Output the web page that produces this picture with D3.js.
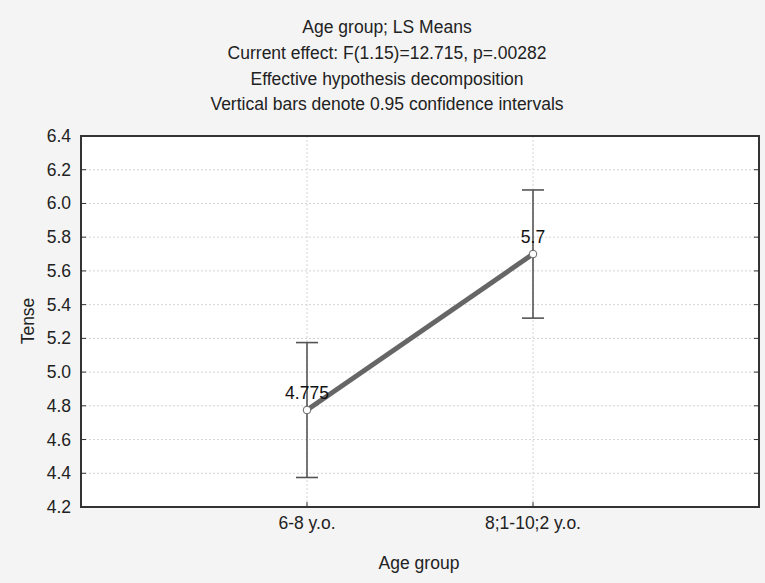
<!DOCTYPE html>
<html lang="en">
<head>
    <meta charset="UTF-8">
    <title>Age group; LS Means</title>
    <script src="https://cdn.jsdelivr.net/npm/d3@7"></script>
    <style>
        body { margin: 0; background: #f4f4f4; }
        svg text { font-family: "Liberation Sans", Arial, sans-serif; fill: #222; }
    </style>
</head>
<body>
<div id="chart"></div>
<script>
    // data
    var groups = ["6-8 y.o.", "8;1-10;2 y.o."];
    var means = [4.775, 5.7];
    var lower = [4.375, 5.32];
    var upper = [5.175, 6.08];
    var pointLabels = ["4.775", "5.7"];
    var yTicks = [4.2, 4.4, 4.6, 4.8, 5.0, 5.2, 5.4, 5.6, 5.8, 6.0, 6.2, 6.4];
    var titleLines = [
        "Age group; LS Means",
        "Current effect: F(1.15)=12.715, p=.00282",
        "Effective hypothesis decomposition",
        "Vertical bars denote 0.95 confidence intervals"
    ];

    var W = 765, H = 583;
    var pL = 81, pR = 759, pT = 136, pB = 507;

    var svg = d3.select("#chart").append("svg")
            .attr("width", W)
            .attr("height", H);

    svg.append("rect")
            .attr("width", W).attr("height", H)
            .style("fill", "#f4f4f4");

    // category positions: domain 0..3, groups at 1 and 2
    var x = d3.scaleLinear().domain([0, 3]).range([pL, pR]);
    var y = d3.scaleLinear().domain([4.2, 6.4]).range([pB, pT]);

    svg.append("rect")
            .attr("x", pL).attr("y", pT)
            .attr("width", pR - pL).attr("height", pB - pT)
            .style("fill", "#fff");

    // grid
    svg.selectAll(".hgrid")
            .data(yTicks.slice(1, -1))
            .enter().append("line")
            .attr("x1", pL).attr("x2", pR)
            .attr("y1", function (d) { return y(d); })
            .attr("y2", function (d) { return y(d); })
            .style("stroke", "#d4d4d4")
            .style("stroke-dasharray", "2,2");

    svg.selectAll(".vgrid")
            .data(groups)
            .enter().append("line")
            .attr("x1", function (d, i) { return x(i + 1); })
            .attr("x2", function (d, i) { return x(i + 1); })
            .attr("y1", pT).attr("y2", pB)
            .style("stroke", "#d4d4d4")
            .style("stroke-dasharray", "2,2");

    // inner ticks
    svg.selectAll(".ltick")
            .data(yTicks)
            .enter().append("line")
            .attr("x1", pL).attr("x2", pL + 5)
            .attr("y1", function (d) { return y(d); })
            .attr("y2", function (d) { return y(d); })
            .style("stroke", "#333");
    svg.selectAll(".rtick")
            .data(yTicks)
            .enter().append("line")
            .attr("x1", pR - 5).attr("x2", pR)
            .attr("y1", function (d) { return y(d); })
            .attr("y2", function (d) { return y(d); })
            .style("stroke", "#333");
    svg.selectAll(".btick")
            .data(groups)
            .enter().append("line")
            .attr("x1", function (d, i) { return x(i + 1); })
            .attr("x2", function (d, i) { return x(i + 1); })
            .attr("y1", pB - 5).attr("y2", pB)
            .style("stroke", "#333");

    // frame
    svg.append("rect")
            .attr("x", pL).attr("y", pT)
            .attr("width", pR - pL).attr("height", pB - pT)
            .style("fill", "none")
            .style("stroke", "#333")
            .style("stroke-width", 2);

    // tick labels
    svg.selectAll(".ylab")
            .data(yTicks)
            .enter().append("text")
            .attr("x", pL - 10)
            .attr("y", function (d) { return y(d) + 6; })
            .attr("text-anchor", "end")
            .style("font-size", "17.5px")
            .text(function (d) { return d3.format(".1f")(d); });

    svg.selectAll(".xlab")
            .data(groups)
            .enter().append("text")
            .attr("x", function (d, i) { return x(i + 1); })
            .attr("y", 529)
            .attr("text-anchor", "middle")
            .style("font-size", "17.5px")
            .text(function (d) { return d; });

    // axis titles
    svg.append("text")
            .attr("x", 419).attr("y", 569)
            .attr("text-anchor", "middle")
            .style("font-size", "17.5px")
            .text("Age group");
    svg.append("text")
            .attr("transform", "translate(34,321) rotate(-90)")
            .attr("text-anchor", "middle")
            .style("font-size", "17.5px")
            .text("Tense");

    // title
    svg.selectAll(".title")
            .data(titleLines)
            .enter().append("text")
            .attr("x", 387)
            .attr("y", function (d, i) { return 33 + i * 25.8; })
            .attr("text-anchor", "middle")
            .style("font-size", "17.5px")
            .text(function (d) { return d; });

    // error bars
    var eb = svg.selectAll(".eb").data(groups).enter().append("g");
    eb.append("line")
            .attr("x1", function (d, i) { return x(i + 1); })
            .attr("x2", function (d, i) { return x(i + 1); })
            .attr("y1", function (d, i) { return y(lower[i]); })
            .attr("y2", function (d, i) { return y(upper[i]); })
            .style("stroke", "#555").style("stroke-width", 1.6);
    eb.append("line")
            .attr("x1", function (d, i) { return x(i + 1) - 11; })
            .attr("x2", function (d, i) { return x(i + 1) + 11; })
            .attr("y1", function (d, i) { return y(lower[i]); })
            .attr("y2", function (d, i) { return y(lower[i]); })
            .style("stroke", "#555").style("stroke-width", 1.6);
    eb.append("line")
            .attr("x1", function (d, i) { return x(i + 1) - 11; })
            .attr("x2", function (d, i) { return x(i + 1) + 11; })
            .attr("y1", function (d, i) { return y(upper[i]); })
            .attr("y2", function (d, i) { return y(upper[i]); })
            .style("stroke", "#555").style("stroke-width", 1.6);

    // mean line
    var line = d3.line()
            .x(function (d, i) { return x(i + 1); })
            .y(function (d) { return y(d); });
    svg.append("path")
            .datum(means)
            .attr("d", line)
            .style("fill", "none")
            .style("stroke", "#666")
            .style("stroke-width", 5);

    svg.selectAll(".pt")
            .data(means)
            .enter().append("circle")
            .attr("cx", function (d, i) { return x(i + 1); })
            .attr("cy", function (d) { return y(d); })
            .attr("r", 3.8)
            .style("fill", "#fff")
            .style("stroke", "#666")
            .style("stroke-width", 1);

    svg.selectAll(".ptlab")
            .data(means)
            .enter().append("text")
            .attr("x", function (d, i) { return x(i + 1); })
            .attr("y", function (d) { return y(d) - 11; })
            .attr("text-anchor", "middle")
            .style("font-size", "17.5px")
            .style("fill", "#111")
            .text(function (d, i) { return pointLabels[i]; });
</script>
</body>
</html>
